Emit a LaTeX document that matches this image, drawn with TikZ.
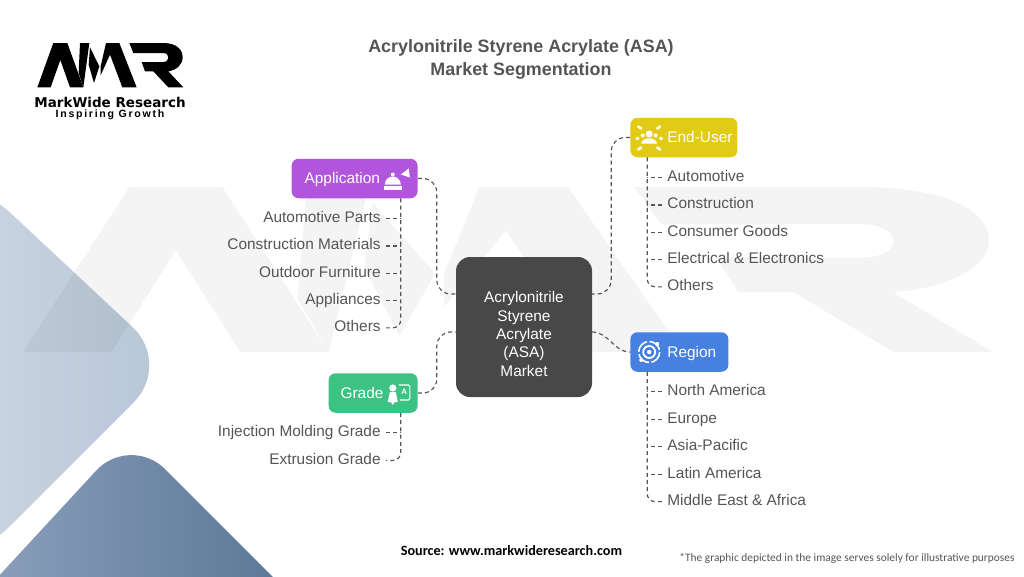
\documentclass[tikz,border=0pt]{standalone}
\usepackage{fontspec}
\setmainfont{Liberation Sans}
\newfontfamily\carlitofont{Carlito}
\newfontfamily\logofont{DejaVu Sans}
\newfontfamily\taglinefont[LetterSpace=16]{Liberation Sans}
\usetikzlibrary{calc, positioning, arrows.meta}

\definecolor{hubgray}{HTML}{484848}
\definecolor{inkgray}{HTML}{555555}
\definecolor{appviolet}{HTML}{B055DC}
\definecolor{gradegreen}{HTML}{3CC283}
\definecolor{useryellow}{HTML}{E2CB15}
\definecolor{regionblue}{HTML}{4680E0}
\definecolor{bglight}{HTML}{CBD5E2}
\definecolor{bglightend}{HTML}{B7C5D5}
\definecolor{bgdark}{HTML}{8EA3BF}
\definecolor{bgdarkend}{HTML}{587394}

% logo letters, used twice: the mark and the watermark
\newcommand{\logomark}[1]{
  \fill[#1] (22,148) -- (70,15) -- (112,15) -- (160,148) -- (120,148) -- (91,66) -- (62,148) -- cycle;
  \fill[#1] (150,15) -- (178,15) -- (160,148) -- (146,105) -- cycle;
  \fill[#1] (180,28) -- (208,85) -- (192,135) -- (176,80) -- cycle;
  \fill[#1] (228,15) -- (268,15) -- (320,148) -- (277,148) -- (240,50) -- (212,112) -- (212,85) -- cycle;
  \fill[#1] (298,15) -- (400,15) .. controls (440,15) and (458,35) .. (458,58)
    .. controls (458,80) and (440,96) .. (415,100) -- (460,148) -- (415,148) -- (370,100) -- (345,100) -- (335,72) -- (400,72)
    .. controls (420,72) and (420,45) .. (400,45) -- (310,45) -- cycle;
}

\tikzset{
  pics/appicon/.style={code={
    \fill[white] (-8,6) arc (180:360:8) -- cycle;
    \fill[white] (-9,7.5) rectangle (9,11.5);
    \fill[white] (0,-4) circle (2);
    \fill[white] (8,-4) -- (16,-10) -- (17,-1) -- cycle;
  }},
  pics/gradeicon/.style={code={
    \fill[white] (-7,-5) circle (3.6);
    \fill[white] (-12,9) -- (-10,-1) -- (-4,-1) -- (-2,9) -- (-5,9) -- (-7,12) -- (-9,9) -- cycle;
    \draw[white, line width=1.1pt, rounded corners=1.5pt] (-1,-8) -- (10,-8) -- (10,7) -- (0,7);
    \node[white, font=\bfseries\fontsize{8}{8}\selectfont, inner sep=0pt] (gradeA) at (4.5,-1) {A};
  }},
  pics/usericon/.style={code={
    \fill[white] (-8,6) .. controls (-6,-1) and (6,-1) .. (8,6) -- cycle;
    \fill[white] (0,-3.5) circle (3.5) (-6.5,-2) circle (2) (6.5,-2) circle (2);
    \draw[white, line width=2.6pt, line cap=round]
      (-8,-9) -- (-11,-11) (8,-9) -- (11,-11) (-8,10) -- (-11,12) (8,10) -- (11,12) (-11,1) -- (-12.5,1) (11,1) -- (12.5,1);
  }},
  pics/regionicon/.style={code={
    \draw[white, line width=1.6pt, dash pattern=on 14pt off 2.5pt] (0,0) circle (10.5);
    \draw[white, line width=1.8pt] (0,0) circle (6);
    \fill[white] (0,0) circle (2.2) (8,-8) circle (2) (-8,8) circle (2);
  }}
}

\begin{document}
\begin{tikzpicture}[x=1pt, y=-1pt, >=Stealth, every node/.style={font=\fontsize{15.4}{18.3}\selectfont}]
  \tikzset{
    hubbox/.style={fill=hubgray, text=white, rounded corners=14pt, minimum width=136pt, minimum height=140pt, align=center},
    branch/.style 2 args={text=white, rounded corners=7pt, minimum height=39.5pt, inner xsep=4pt, text width=#1, align=left,
      text height=11pt, text depth=1pt, execute at begin node=\hspace*{#2}},
    leaf/.style={text=inkgray, text height=11pt, text depth=3pt, inner ysep=0pt, inner xsep=5pt},
    link/.style={draw=inkgray, line width=1.15pt, dash pattern=on 4pt off 3.2pt}
  }
  \useasboundingbox (0,0) rectangle (1024,576);

  % background shapes
  \shade[left color=bglight, right color=bglightend, rounded corners=54pt]
    (-30,175) -- (172,364) -- (-30,566) -- cycle;
  \shade[left color=bgdark, right color=bgdarkend, rounded corners=50pt]
    (-40,618) -- (130,434) -- (310,614) -- cycle;
  \begin{scope}[shift={(-25.7,168.4)}, x=2.215pt, y=-1.24pt]
    \logomark{black, opacity=0.045}
  \end{scope}

  % logo
  \begin{scope}[shift={(30,38)}, x=0.3333pt, y=-0.3333pt]
    \logomark{black}
  \end{scope}
  \node[inner sep=0pt, font=\logofont\bfseries\fontsize{13.5}{15}\selectfont] (logoname) at (110,102) {MarkWide Research};
  \node[inner sep=0pt, font=\taglinefont\bfseries\fontsize{10.6}{12}\selectfont] (logotag) at (110,114.5) {Inspiring Growth};

  % title and notes
  \node[text=inkgray, align=center, font=\bfseries\fontsize{17.9}{23}\selectfont] (title) at (521,59.5)
    {Acrylonitrile Styrene Acrylate (ASA)\\Market Segmentation};
  \node[font=\carlitofont\bfseries\fontsize{14.2}{16}\selectfont] (source) at (511.5,551) {Source: www.markwideresearch.com};
  \node[text=inkgray, font=\carlitofont\fontsize{11.4}{14}\selectfont] (note) at (847,558)
    {*The graphic depicted in the image serves solely for illustrative purposes};

  % hub and branches
  \node[hubbox] (hub) at (524,327) {\rule{0pt}{25pt}Acrylonitrile\\Styrene\\Acrylate\\(ASA)\\Market};
  \node[branch={118pt}{9pt}, fill=appviolet, left=38pt of hub.west, yshift=148.5pt] (application) {Application};
  \node[branch={81pt}{8pt}, fill=gradegreen, left=38pt of hub.west, yshift=-66pt] (grade) {Grade};
  \node[branch={99pt}{33pt}, fill=useryellow, right=38pt of hub.east, yshift=189.5pt] (enduser) {End-User};
  \node[branch={90pt}{33pt}, fill=regionblue, right=38pt of hub.east, yshift=-25pt] (region) {Region};

  \pic at ([xshift=-25pt]application.east) {appicon};
  \pic at ([xshift=-18pt]grade.east) {gradeicon};
  \pic at ([xshift=19pt]enduser.west) {usericon};
  \pic at ([xshift=19pt]region.west) {regionicon};

  % leaves
  \node[leaf, below left=13pt and 32pt of application.south east] (autoparts) {Automotive Parts};
  \node[leaf, below left=12.9pt and 0pt of autoparts.south east] (materials) {Construction Materials};
  \node[leaf, below left=12.9pt and 0pt of materials.south east] (furniture) {Outdoor Furniture};
  \node[leaf, below left=12.9pt and 0pt of furniture.south east] (appliances) {Appliances};
  \node[leaf, below left=12.9pt and 0pt of appliances.south east] (appothers) {Others};

  \node[leaf, below left=12.6pt and 32pt of grade.south east] (injection) {Injection Molding Grade};
  \node[leaf, below left=13.3pt and 0pt of injection.south east] (extrusion) {Extrusion Grade};

  \node[leaf, below right=13pt and 32pt of enduser.south west] (automotive) {Automotive};
  \node[leaf, below right=12.9pt and 0pt of automotive.south west] (construction) {Construction};
  \node[leaf, below right=12.9pt and 0pt of construction.south west] (consumer) {Consumer Goods};
  \node[leaf, below right=12.9pt and 0pt of consumer.south west] (electrical) {Electrical \& Electronics};
  \node[leaf, below right=12.9pt and 0pt of electrical.south west] (userothers) {Others};

  \node[leaf, below right=12.5pt and 32pt of region.south west] (northam) {North America};
  \node[leaf, below right=13.1pt and 0pt of northam.south west] (europe) {Europe};
  \node[leaf, below right=13.1pt and 0pt of europe.south west] (asia) {Asia-Pacific};
  \node[leaf, below right=13.1pt and 0pt of asia.south west] (latam) {Latin America};
  \node[leaf, below right=13.1pt and 0pt of latam.south west] (mea) {Middle East \& Africa};

  \coordinate (hubnw) at ([yshift=33pt]hub.west);
  \coordinate (hubsw) at ([yshift=-5pt]hub.west);
  \coordinate (hubne) at ([yshift=33pt]hub.east);
  \coordinate (hubse) at ([yshift=-5pt]hub.east);
  \coordinate (apptrunk) at ([xshift=-17pt]application.south east);
  \coordinate (gradetrunk) at ([xshift=-17pt]grade.south east);
  \coordinate (usertrunk) at ([xshift=17pt]enduser.south west);
  \coordinate (regiontrunk) at ([xshift=17pt]region.south west);

  % hub links
  \draw[link, rounded corners=14pt] (application.east) -| ($(application.east)!.5!(hubnw)$) |- (hubnw);
  \draw[link, rounded corners=14pt] (grade.east) -| ($(grade.east)!.5!(hubsw)$) |- (hubsw);
  \draw[link, rounded corners=14pt] (enduser.west) -| ($(enduser.west)!.5!(hubne)$) |- (hubne);
  \draw[link] (hubse) to[out=0, in=180] (region.west);

  % trunks and ticks
  \draw[link, rounded corners=8pt] (apptrunk) |- (appothers.east);
  \draw[link] (autoparts.east) -- (autoparts.east -| apptrunk);
  \draw[link] (materials.east) -- (materials.east -| apptrunk);
  \draw[link] (furniture.east) -- (furniture.east -| apptrunk);
  \draw[link] (appliances.east) -- (appliances.east -| apptrunk);

  \draw[link, rounded corners=8pt] (gradetrunk) |- (extrusion.east);
  \draw[link] (injection.east) -- (injection.east -| gradetrunk);

  \draw[link, rounded corners=8pt] (usertrunk) |- (userothers.west);
  \draw[link] (automotive.west) -- (automotive.west -| usertrunk);
  \draw[link] (construction.west) -- (construction.west -| usertrunk);
  \draw[link] (consumer.west) -- (consumer.west -| usertrunk);
  \draw[link] (electrical.west) -- (electrical.west -| usertrunk);

  \draw[link, rounded corners=8pt] (regiontrunk) |- (mea.west);
  \draw[link] (northam.west) -- (northam.west -| regiontrunk);
  \draw[link] (europe.west) -- (europe.west -| regiontrunk);
  \draw[link] (asia.west) -- (asia.west -| regiontrunk);
  \draw[link] (latam.west) -- (latam.west -| regiontrunk);
\end{tikzpicture}
\end{document}
